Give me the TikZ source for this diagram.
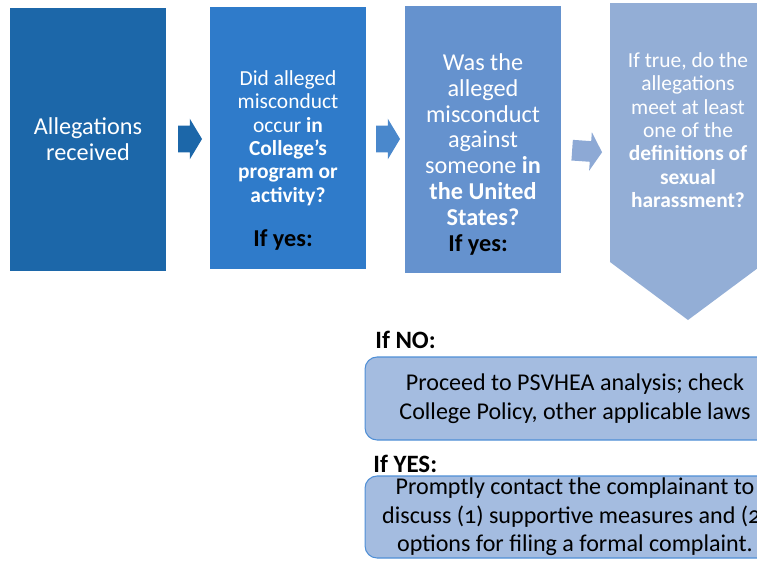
\documentclass[tikz,border=0pt]{standalone}
\usepackage{fontspec}
\setmainfont{Carlito}[Numbers=OldStyle]
\usetikzlibrary{positioning,shapes.arrows,calc}
\definecolor{stepone}{HTML}{1C67A9}
\definecolor{steptwo}{HTML}{2F7BCA}
\definecolor{stepthree}{HTML}{6592CE}
\definecolor{stepfour}{HTML}{93AED6}
\definecolor{arrowtwo}{HTML}{4A88CC}
\definecolor{arrowthree}{HTML}{8DA9D5}
\definecolor{notefill}{HTML}{A4BCE0}
\definecolor{noteline}{HTML}{4F8FD6}

\begin{document}
\begin{tikzpicture}[x=0.02cm,y=-0.02cm,
	qbox/.style={inner sep=0pt, text=white, align=center, minimum width=3.12cm},
	bigtxt/.style={font=\fontsize{13.8}{14.7}\selectfont},
	smalltxt/.style={font=\fontsize{12.2}{13.3}\selectfont},
	flowarrow/.style={single arrow, inner xsep=0pt, inner ysep=0.26cm, minimum height=0.48cm,
		single arrow head extend=0.14cm, single arrow tip angle=118},
	notebox/.style={draw=noteline, fill=notefill, rounded corners=0.24cm, line width=0.6pt,
		minimum width=8.4cm, align=center, inner sep=0pt,
		font=\fontsize{13.7}{16.2}\selectfont},
	ifyes/.style={font=\bfseries\fontsize{13.8}{15}\selectfont},
	iflabel/.style={font=\bfseries\fontsize{14.2}{16}\selectfont, anchor=west, inner sep=0pt}]
	\useasboundingbox (0,0) rectangle (757,562);
	\clip (0,0) rectangle (757,562);

	\node[qbox, bigtxt, fill=stepone, minimum height=5.26cm] (received) at (88,139.5)
		{Allegations\\received};
	\node[qbox, smalltxt, fill=steptwo, minimum height=5.24cm] (program) at (288,138)
		{Did alleged\\misconduct\\occur \textbf{in}\\\textbf{College’s}\\\textbf{program or}\\\textbf{activity?}};
	\node[ifyes] (yesone) at (283,240) {If yes:};
	\node[qbox, bigtxt, fill=stepthree, minimum height=5.34cm] (states) at (483,139.5)
		{Was the\\alleged\\misconduct\\against\\someone \textbf{in}\\\textbf{the United}\\\textbf{States?}};
	\node[ifyes] (yestwo) at (478,245) {If yes:};
	\fill[stepfour] (610,3) -- (766,3) -- (766,262) -- (688,320) -- (610,262) -- cycle;
	\node[qbox, smalltxt] (definition) at (688,130)
		{If true, do the\\allegations\\meet at least\\one of the\\\textbf{definitions of}\\\textbf{sexual}\\\textbf{harassment?}};

	\node[flowarrow, fill=stepone] (arrowone) at (186,139) {};
	\node[flowarrow, fill=arrowtwo] (arrowtwo) at (384,139) {};
	\node[flowarrow, fill=arrowthree, minimum height=0.6cm, inner ysep=0.2cm,
		single arrow head extend=0.18cm, rotate=-4] (arrowthree) at (584,151) {};

	\node[iflabel] (ifno) at (375,340) {If NO:};
	\node[notebox, minimum height=1.66cm] (analysis) at (575,398.5)
		{Proceed to PSVHEA analysis; check\\College Policy, other applicable laws};
	\node[iflabel] (ifyes) at (373,464) {If YES:};
	\node[notebox, minimum height=1.64cm] (contact) at (575,517)
		{Promptly contact the complainant to\\discuss (1) supportive measures and (2)\\options for filing a formal complaint.};
\end{tikzpicture}
\end{document}
